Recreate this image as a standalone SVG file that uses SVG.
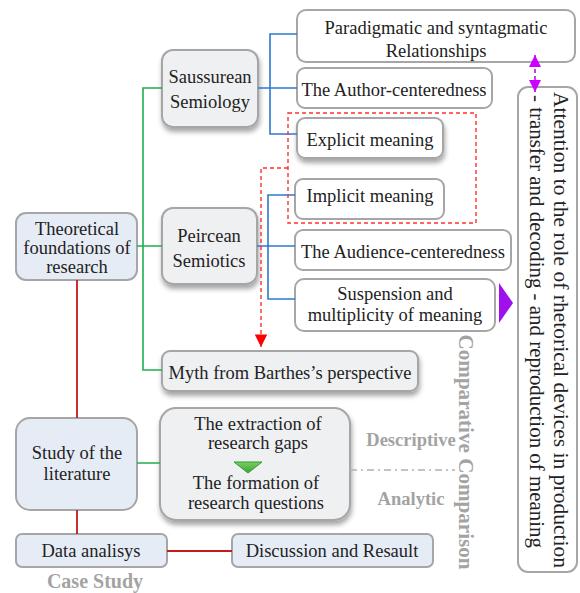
<svg xmlns="http://www.w3.org/2000/svg" width="580" height="593" viewBox="0 0 580 593">
<defs>
<filter id="sh" x="-20%" y="-20%" width="140%" height="150%">
<feDropShadow dx="1" dy="4" stdDeviation="2.5" flood-color="#000" flood-opacity="0.35"/>
</filter>
<linearGradient id="tri" x1="0" y1="0" x2="0" y2="1">
<stop offset="0" stop-color="#7ccf5a"/><stop offset="1" stop-color="#3aa53a"/>
</linearGradient>
<marker id="ar" viewBox="0 0 10 10" refX="10" refY="5" markerWidth="9" markerHeight="9" orient="auto-start-reverse">
<path d="M0,0 L10,5 L0,10 z" fill="#ff0000"/>
</marker>
<marker id="am" viewBox="0 0 10 10" refX="10" refY="5" markerWidth="7.5" markerHeight="7.5" orient="auto-start-reverse">
<path d="M0,0 L10,5 L0,10 z" fill="#cc00ff"/>
</marker>
</defs>
<style>
text{font-family:"Liberation Serif","Times New Roman",serif;font-size:18.5px;fill:#222;text-anchor:middle}
.g{fill:#a3a3a3;font-weight:bold}
.b{stroke:#a6a6a6;stroke-width:2}
.lb{fill:#e6ecf6}
.gy{fill:#eff0f2}
.wh{fill:#fff}
.cb{stroke:#2f78d0;stroke-width:1.6;fill:none}
.cg{stroke:#1fae4e;stroke-width:1.6;fill:none}
.cr{stroke:#c41a1a;stroke-width:1.8;fill:none}
.v{font-size:21px}
</style>
<g id="n-theory"><rect class="b lb" x="16" y="213" width="121" height="67" rx="10"/>
<text x="77" y="235">Theoretical</text><text x="77" y="254">foundations of</text><text x="77" y="273">research</text></g>
<g id="n-saussure"><rect class="b gy" x="162" y="50" width="96" height="77" rx="11" filter="url(#sh)"/>
<text x="210" y="83">Saussurean</text><text x="210" y="108">Semiology</text></g>
<g id="n-peirce"><rect class="b gy" x="162" y="208" width="95" height="76" rx="11" filter="url(#sh)"/>
<text x="209" y="242">Peircean</text><text x="209" y="267">Semiotics</text></g>
<g id="n-paradigm"><rect class="b wh" x="297" y="10" width="278" height="52" rx="9"/>
<text x="436" y="34">Paradigmatic and syntagmatic</text><text x="436" y="57">Relationships</text></g>
<g id="n-author"><rect class="b wh" x="297" y="68" width="195" height="40" rx="8"/>
<text x="394" y="96">The Author-centeredness</text></g>
<g id="n-explicit"><rect class="b wh" x="297" y="118" width="146" height="40" rx="8" filter="url(#sh)"/>
<text x="370" y="146">Explicit meaning</text></g>
<g id="n-implicit"><rect class="b wh" x="295" y="179" width="149" height="40" rx="8"/>
<text x="370" y="202">Implicit meaning</text></g>
<g id="n-audience"><rect class="b wh" x="295" y="230" width="216" height="40" rx="8"/>
<text x="403" y="258">The Audience-centeredness</text></g>
<g id="n-suspension"><rect class="b wh" x="295" y="279" width="200" height="52" rx="9"/>
<text x="395" y="300">Suspension and</text><text x="395" y="321">multiplicity of meaning</text></g>
<g id="n-myth"><rect class="b gy" x="162" y="351" width="256" height="40" rx="8" filter="url(#sh)"/>
<text x="290" y="379">Myth from Barthes’s perspective</text></g>
<g id="n-gaps"><rect class="b gy" x="160" y="408" width="190" height="112" rx="16" filter="url(#sh)"/>
<text x="258" y="430">The extraction of</text><text x="258" y="449">research gaps</text>
<path d="M234,462 L262,462 L248,473 z" fill="url(#tri)" stroke="#2e9a3a" stroke-width="1"/>
<text x="256" y="489">The formation of</text><text x="256" y="509">research questions</text></g>
<g id="n-literature"><rect class="b lb" x="16" y="418" width="121" height="92" rx="14"/>
<text x="77" y="459">Study of the</text><text x="77" y="480">literature</text></g>
<g id="n-data"><rect class="b lb" x="16" y="534" width="151" height="33" rx="6"/>
<text x="91" y="557">Data analisys</text></g>
<g id="n-discussion"><rect class="b lb" x="232" y="534" width="201" height="33" rx="6"/>
<text x="332" y="557">Discussion and Resault</text></g>
<g id="n-attention"><rect class="b wh" x="518" y="87" width="59" height="485" rx="10"/>
<text class="v" transform="translate(554,330) rotate(90)" textLength="476" lengthAdjust="spacingAndGlyphs">Attention to the role of rhetorical devices in production</text>
<text class="v" transform="translate(530,321.5) rotate(90)" textLength="453" lengthAdjust="spacingAndGlyphs">- transfer and decoding - and reproduction of meaning</text></g>
<g id="labels">
<text class="g" x="95" y="588" style="font-size:20px">Case Study</text>
<text class="g" x="411" y="446">Descriptive</text>
<text class="g" x="411" y="505">Analytic</text>
<text class="g" transform="translate(459,452) rotate(90)" style="font-size:21px" textLength="235" lengthAdjust="spacingAndGlyphs">Comparative Comparison</text>
</g>
<g id="connectors">
<path class="cg" d="M162,88 H143 V370 H162 M137,246 H162 M137,463 H160"/>
<path class="cb" d="M258,88 H270 M297,34 H270 V134 H297 M270,88 H297"/>
<path class="cb" d="M257,246 H268 M295,195 H268 V299 H295 M268,246 H295"/>
<path class="cr" d="M77,280 V418 M77,510 V534 M167,551 H232"/>
<rect x="288" y="113" width="188" height="110" fill="none" stroke="#ff3030" stroke-width="1.4" stroke-dasharray="4 3"/>
<path d="M288,168 H261 V347" fill="none" stroke="#ff3030" stroke-width="1.4" stroke-dasharray="4 3" marker-end="url(#ar)"/>
<path d="M535,55 V92" fill="none" stroke="#cc00ff" stroke-width="1.6" stroke-dasharray="4 3" marker-start="url(#am)" marker-end="url(#am)"/>
<path d="M350,470 H455" fill="none" stroke="#b0b0b0" stroke-width="1.6" stroke-dasharray="7 4 2 4"/>
<path d="M499,283 L513,303 L499,323 z" fill="#a010ee"/>
</g>
</svg>
